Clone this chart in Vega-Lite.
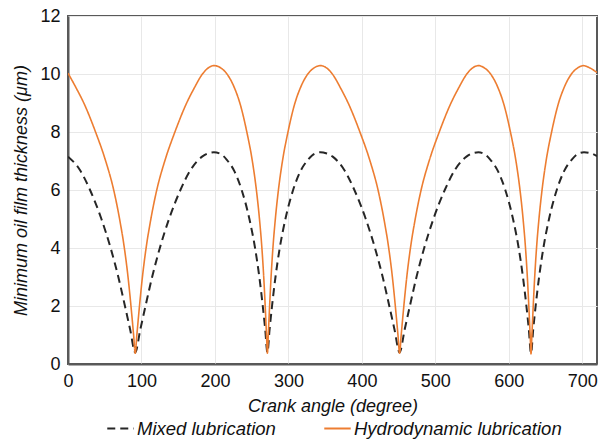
{
  "$schema": "https://vega.github.io/schema/vega-lite/v6.json",
  "width": 529,
  "height": 348,
  "autosize": {"type": "none"},
  "padding": {"left": 68, "top": 16, "right": 2, "bottom": 79},
  "background": "white",
  "config": {
    "font": "Liberation Sans",
    "view": {"stroke": "#595959", "strokeWidth": 2},
    "axis": {
      "labelFont": "Liberation Sans",
      "titleFont": "Liberation Sans",
      "labelFontSize": 18,
      "titleFontSize": 18,
      "labelColor": "#111",
      "titleColor": "#111",
      "titleFontWeight": "normal",
      "titleFontStyle": "italic",
      "gridColor": "#e8e8e8",
      "gridWidth": 1,
      "domainColor": "#595959",
      "domainWidth": 2,
      "ticks": false
    },
    "legend": {
      "labelFont": "Liberation Sans",
      "labelFontSize": 18.5,
      "labelFontStyle": "italic",
      "labelColor": "#111",
      "labelLimit": 400
    }
  },
  "datasets": {
    "hydro": [
      {"angle": 0, "h": 10.03}, {"angle": 11.5, "h": 9.5}, {"angle": 21.5, "h": 9.0}, {"angle": 37.5, "h": 8.0},
      {"angle": 51.3, "h": 7.0}, {"angle": 62.2, "h": 6.0}, {"angle": 70.2, "h": 5.0}, {"angle": 76.7, "h": 4.0},
      {"angle": 81.7, "h": 3.0}, {"angle": 85.7, "h": 2.0}, {"angle": 89.3, "h": 1.0}, {"angle": 91.5, "h": 0.37},
      {"angle": 93.7, "h": 1.0}, {"angle": 97.3, "h": 2.0}, {"angle": 101.3, "h": 3.0}, {"angle": 106.3, "h": 4.0},
      {"angle": 112.8, "h": 5.0}, {"angle": 120.8, "h": 6.0}, {"angle": 131.7, "h": 7.0}, {"angle": 145.5, "h": 8.0},
      {"angle": 161.5, "h": 9.0}, {"angle": 171.5, "h": 9.5}, {"angle": 183, "h": 10.0}, {"angle": 191.5, "h": 10.22},
      {"angle": 199, "h": 10.29},
      {"angle": 207.9, "h": 10.21}, {"angle": 216.4, "h": 10.0}, {"angle": 226.9, "h": 9.5}, {"angle": 233.9, "h": 9.0},
      {"angle": 243.4, "h": 8.0}, {"angle": 250.9, "h": 7.0}, {"angle": 256.4, "h": 6.0}, {"angle": 260.6, "h": 5.0},
      {"angle": 263.9, "h": 4.0}, {"angle": 266.4, "h": 3.0}, {"angle": 268.4, "h": 2.0}, {"angle": 270.2, "h": 1.0},
      {"angle": 271.4, "h": 0.37},
      {"angle": 272.6, "h": 1.0}, {"angle": 274.4, "h": 2.0}, {"angle": 276.4, "h": 3.0}, {"angle": 278.9, "h": 4.0},
      {"angle": 282.2, "h": 5.0}, {"angle": 286.4, "h": 6.0}, {"angle": 291.9, "h": 7.0}, {"angle": 299.4, "h": 8.0},
      {"angle": 308.9, "h": 9.0}, {"angle": 315.9, "h": 9.5}, {"angle": 326.4, "h": 10.0}, {"angle": 334.9, "h": 10.21},
      {"angle": 343.5, "h": 10.29},
      {"angle": 351.3, "h": 10.22}, {"angle": 359.8, "h": 10.0}, {"angle": 371.3, "h": 9.5}, {"angle": 381.3, "h": 9.0},
      {"angle": 397.3, "h": 8.0}, {"angle": 411.1, "h": 7.0}, {"angle": 422, "h": 6.0}, {"angle": 430, "h": 5.0},
      {"angle": 436.5, "h": 4.0}, {"angle": 441.5, "h": 3.0}, {"angle": 445.5, "h": 2.0}, {"angle": 449.1, "h": 1.0},
      {"angle": 451.3, "h": 0.37},
      {"angle": 453.5, "h": 1.0}, {"angle": 457.1, "h": 2.0}, {"angle": 461.1, "h": 3.0}, {"angle": 466.1, "h": 4.0},
      {"angle": 472.6, "h": 5.0}, {"angle": 480.6, "h": 6.0}, {"angle": 491.5, "h": 7.0}, {"angle": 505.3, "h": 8.0},
      {"angle": 521.3, "h": 9.0}, {"angle": 531.3, "h": 9.5}, {"angle": 542.8, "h": 10.0}, {"angle": 551.3, "h": 10.22},
      {"angle": 558.6, "h": 10.29},
      {"angle": 566.7, "h": 10.21}, {"angle": 575.2, "h": 10.0}, {"angle": 585.7, "h": 9.5}, {"angle": 592.7, "h": 9.0},
      {"angle": 602.2, "h": 8.0}, {"angle": 609.7, "h": 7.0}, {"angle": 615.2, "h": 6.0}, {"angle": 619.4, "h": 5.0},
      {"angle": 622.7, "h": 4.0}, {"angle": 625.2, "h": 3.0}, {"angle": 627.2, "h": 2.0}, {"angle": 629, "h": 1.0},
      {"angle": 630.2, "h": 0.35},
      {"angle": 631.4, "h": 1.0}, {"angle": 633.2, "h": 2.0}, {"angle": 635.2, "h": 3.0}, {"angle": 637.7, "h": 4.0},
      {"angle": 641, "h": 5.0}, {"angle": 645.2, "h": 6.0}, {"angle": 650.7, "h": 7.0}, {"angle": 658.2, "h": 8.0},
      {"angle": 667.7, "h": 9.0}, {"angle": 674.7, "h": 9.5}, {"angle": 685.2, "h": 10.0}, {"angle": 693.7, "h": 10.21},
      {"angle": 701.5, "h": 10.29},
      {"angle": 709.5, "h": 10.22}, {"angle": 720, "h": 10.05}
    ],
    "mixed": [
      {"angle": 0, "h": 7.15}, {"angle": 16, "h": 6.7}, {"angle": 30, "h": 6.0}, {"angle": 45.5, "h": 5.0},
      {"angle": 58, "h": 4.0}, {"angle": 68.5, "h": 3.0}, {"angle": 77.5, "h": 2.0}, {"angle": 84.5, "h": 1.2},
      {"angle": 91.5, "h": 0.4},
      {"angle": 98.5, "h": 1.2}, {"angle": 105.5, "h": 2.0}, {"angle": 114.5, "h": 3.0}, {"angle": 125, "h": 4.0},
      {"angle": 137.5, "h": 5.0}, {"angle": 153, "h": 6.0}, {"angle": 167, "h": 6.7}, {"angle": 182.5, "h": 7.15},
      {"angle": 191.5, "h": 7.27}, {"angle": 198.5, "h": 7.3},
      {"angle": 207.4, "h": 7.25}, {"angle": 215.9, "h": 7.05}, {"angle": 226.4, "h": 6.65}, {"angle": 236.4, "h": 6.0},
      {"angle": 246.9, "h": 5.0}, {"angle": 254.6, "h": 4.0}, {"angle": 260.4, "h": 3.0}, {"angle": 265.1, "h": 2.0},
      {"angle": 268.4, "h": 1.2}, {"angle": 271.4, "h": 0.4},
      {"angle": 274.4, "h": 1.2}, {"angle": 277.7, "h": 2.0}, {"angle": 282.4, "h": 3.0}, {"angle": 288.2, "h": 4.0},
      {"angle": 295.9, "h": 5.0}, {"angle": 306.4, "h": 6.0}, {"angle": 316.4, "h": 6.65}, {"angle": 326.9, "h": 7.05},
      {"angle": 335.4, "h": 7.25}, {"angle": 343.5, "h": 7.3},
      {"angle": 351.3, "h": 7.27}, {"angle": 360.3, "h": 7.15}, {"angle": 375.8, "h": 6.7}, {"angle": 389.8, "h": 6.0},
      {"angle": 405.3, "h": 5.0}, {"angle": 417.8, "h": 4.0}, {"angle": 428.3, "h": 3.0}, {"angle": 437.3, "h": 2.0},
      {"angle": 444.3, "h": 1.2}, {"angle": 451.3, "h": 0.4},
      {"angle": 458.3, "h": 1.2}, {"angle": 465.3, "h": 2.0}, {"angle": 474.3, "h": 3.0}, {"angle": 484.8, "h": 4.0},
      {"angle": 497.3, "h": 5.0}, {"angle": 512.8, "h": 6.0}, {"angle": 526.8, "h": 6.7}, {"angle": 542.3, "h": 7.15},
      {"angle": 551.3, "h": 7.27}, {"angle": 558.6, "h": 7.3},
      {"angle": 566.2, "h": 7.25}, {"angle": 574.7, "h": 7.05}, {"angle": 585.2, "h": 6.65}, {"angle": 595.2, "h": 6.0},
      {"angle": 605.7, "h": 5.0}, {"angle": 613.4, "h": 4.0}, {"angle": 619.2, "h": 3.0}, {"angle": 623.9, "h": 2.0},
      {"angle": 627.2, "h": 1.2}, {"angle": 630.2, "h": 0.37},
      {"angle": 633.2, "h": 1.2}, {"angle": 636.5, "h": 2.0}, {"angle": 641.2, "h": 3.0}, {"angle": 647, "h": 4.0},
      {"angle": 654.7, "h": 5.0}, {"angle": 665.2, "h": 6.0}, {"angle": 675.2, "h": 6.65}, {"angle": 685.7, "h": 7.05},
      {"angle": 694.2, "h": 7.25}, {"angle": 702.3, "h": 7.3},
      {"angle": 711, "h": 7.27}, {"angle": 720, "h": 7.17}
    ]
  },
  "layer": [
    {
      "data": {"name": "mixed"},
      "transform": [{"calculate": "'Mixed lubrication'", "as": "series"}],
      "mark": {"type": "line", "clip": true, "interpolate": "monotone", "strokeWidth": 2},
      "encoding": {
        "x": {"field": "angle", "type": "quantitative"},
        "y": {"field": "h", "type": "quantitative"},
        "color": {"field": "series", "type": "nominal"},
        "strokeDash": {"field": "series", "type": "nominal"}
      }
    },
    {
      "data": {"name": "hydro"},
      "transform": [{"calculate": "'Hydrodynamic lubrication'", "as": "series"}],
      "mark": {"type": "line", "clip": true, "interpolate": "monotone", "strokeWidth": 1.6},
      "encoding": {
        "x": {"field": "angle", "type": "quantitative"},
        "y": {"field": "h", "type": "quantitative"},
        "color": {"field": "series", "type": "nominal"},
        "strokeDash": {"field": "series", "type": "nominal"}
      }
    }
  ],
  "encoding": {
    "x": {
      "field": "angle",
      "type": "quantitative",
      "scale": {"domain": [0, 720], "nice": false, "zero": false},
      "axis": {
        "values": [0, 100, 200, 300, 400, 500, 600, 700],
        "title": "Crank angle (degree)",
        "labelPadding": 8,
        "titlePadding": 7,
        "labelFlush": false
      }
    },
    "y": {
      "field": "h",
      "type": "quantitative",
      "scale": {"domain": [0, 12], "nice": false},
      "axis": {
        "values": [0, 2, 4, 6, 8, 10, 12],
        "title": "Minimum oil film thickness (μm)",
        "labelPadding": 8,
        "titlePadding": 9
      }
    },
    "color": {
      "field": "series",
      "type": "nominal",
      "scale": {
        "domain": ["Mixed lubrication", "Hydrodynamic lubrication"],
        "range": ["#262626", "#ED7D31"]
      },
      "legend": {
        "title": null,
        "orient": "none",
        "direction": "horizontal",
        "legendX": 38,
        "legendY": 398,
        "symbolType": "stroke",
        "symbolSize": 700,
        "symbolStrokeWidth": 2,
        "columnPadding": 44,
        "labelOffset": 2
      }
    },
    "strokeDash": {
      "field": "series",
      "type": "nominal",
      "scale": {
        "domain": ["Mixed lubrication", "Hydrodynamic lubrication"],
        "range": [[8, 5], [1, 0]]
      },
      "legend": {
        "title": null,
        "orient": "none",
        "direction": "horizontal",
        "legendX": 38,
        "legendY": 398,
        "symbolType": "stroke",
        "symbolSize": 700,
        "symbolStrokeWidth": 2,
        "columnPadding": 44,
        "labelOffset": 2
      }
    }
  }
}
